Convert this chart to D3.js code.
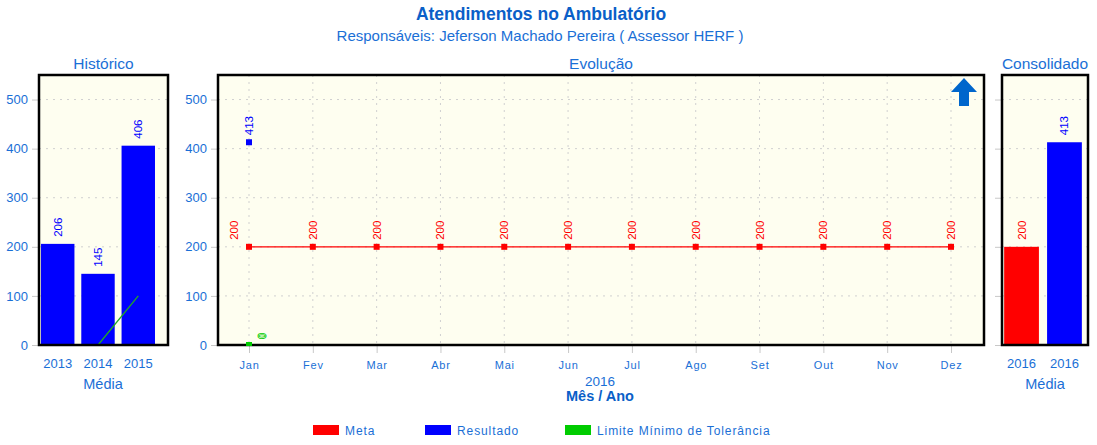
<!DOCTYPE html>
<html><head><meta charset="utf-8">
<script src="https://cdn.jsdelivr.net/npm/d3@7"></script>
<style>
body{margin:0;background:#fff;}
text{font-family:"Liberation Sans",Arial,sans-serif;}
</style></head>
<body><svg id="c" width="1097" height="445"></svg>
<script>
// ---- data ----
const title = "Atendimentos no Ambulatório";
const subtitle = "Responsáveis: Jeferson Machado Pereira ( Assessor HERF )";
const histYears = ["2013","2014","2015"];
const histResultado = [206,145,406];
const histLimite = [null,0,100];
const months = ["Jan","Fev","Mar","Abr","Mai","Jun","Jul","Ago","Set","Out","Nov","Dez"];
const meta = [200,200,200,200,200,200,200,200,200,200,200,200];
const resultado = [413,null,null,null,null,null,null,null,null,null,null,null];
const limite = [0,null,null,null,null,null,null,null,null,null,null,null];
const consLabels = ["2016","2016"];
const consSeries = ["Meta","Resultado"];
const consValues = [200,413];
const yTicks = [0,100,200,300,400,500];
const legendItems = ["Meta","Resultado","Limite Mínimo de Tolerância"];

const colors = {Meta:"#ff0000",Resultado:"#0000ff",Limite:"#00cc00"};
const legendColors = ["#ff0000","#0000ff","#00cc00"];
const blueText = "#1a6fd6";
const titleBlue = "#0a5fc8";
const bg = "#fefef0";

const svg = d3.select("#c");
const y = d3.scaleLinear().domain([0,550]).range([345,75]);
const yTop = 75, yBot = 345;

svg.append("text").attr("x",541).attr("y",20).attr("text-anchor","middle")
  .attr("font-size",17.5).attr("font-weight","bold").attr("fill",titleBlue).text(title);
svg.append("text").attr("x",540).attr("y",41).attr("text-anchor","middle")
  .attr("font-size",15).attr("fill",blueText).text(subtitle);

function panel(x0,x1,name,showLabels){
  const g = svg.append("g");
  g.append("rect").attr("x",x0).attr("y",yTop).attr("width",x1-x0).attr("height",yBot-yTop).attr("fill",bg);
  g.selectAll(".hg").data(yTicks.filter(d=>d>0)).enter().append("line")
    .attr("x1",x0).attr("x2",x1).attr("y1",d=>y(d)).attr("y2",d=>y(d))
    .attr("stroke","#d0d0d0").attr("stroke-dasharray","2,5");
  const ax = d3.axisLeft(y).tickValues(yTicks).tickSize(6).tickPadding(4);
  if(!showLabels) ax.tickFormat("");
  const a = g.append("g").attr("transform",`translate(${x0-1},0)`).call(ax);
  a.select(".domain").remove();
  a.selectAll("line").attr("stroke","#c8c8c8");
  a.selectAll("text").attr("fill",blueText).attr("font-size",13).attr("font-family","Liberation Sans,Arial,sans-serif");
  svg.append("text").attr("x",(x0+x1)/2).attr("y",69).attr("text-anchor","middle")
    .attr("font-size",15.5).attr("fill",blueText).text(name);
  return g;
}
function frame(x0,x1){
  svg.append("rect").attr("x",x0).attr("y",yTop).attr("width",x1-x0).attr("height",yBot-yTop)
    .attr("fill","none").attr("stroke","#000").attr("stroke-width",2.5);
}
function vlabel(g,x,yv,txt,color,dx){
  g.append("text").attr("transform",`translate(${x+(dx||0)},${yv-7}) rotate(-90)`)
    .attr("dy","0.35em").attr("font-size",11.5)
    .attr("fill",color).text(txt);
}

// ---- Histórico ----
const gH = panel(39,168,"Histórico",true);
const xH = d3.scaleBand().domain(histYears).range([39,157]).paddingInner(0.17).paddingOuter(0.05);
gH.selectAll(".hb").data(histYears).enter().append("rect")
  .attr("x",d=>xH(d)).attr("width",xH.bandwidth())
  .attr("y",(d,i)=>y(histResultado[i])).attr("height",(d,i)=>yBot-y(histResultado[i]))
  .attr("fill",colors.Resultado);
histYears.forEach((d,i)=>vlabel(gH,xH(d)+xH.bandwidth()/2,y(histResultado[i]),histResultado[i],"#0000ff"));
const limPts = histYears.map((d,i)=>[d,histLimite[i]]).filter(p=>p[1]!==null);
gH.append("path").datum(limPts)
  .attr("d",d3.line().x(p=>xH(p[0])+xH.bandwidth()/2).y(p=>y(p[1])))
  .attr("fill","none").attr("stroke","#22aa22").attr("stroke-width",1.3);
frame(39,168);
histYears.forEach(d=>svg.append("text").attr("x",xH(d)+xH.bandwidth()/2).attr("y",368)
  .attr("text-anchor","middle").attr("font-size",13).attr("fill",blueText).text(d));
svg.append("text").attr("x",103).attr("y",389).attr("text-anchor","middle")
  .attr("font-size",14.5).attr("fill",blueText).text("Média");

// ---- Evolução ----
const gE = panel(218,984,"Evolução",true);
const xE = d3.scalePoint().domain(months).range([249,951]);
gE.selectAll(".vg").data(months).enter().append("line")
  .attr("x1",d=>xE(d)).attr("x2",d=>xE(d)).attr("y1",yTop).attr("y2",yBot)
  .attr("stroke","#d0d0d0").attr("stroke-dasharray","2,5");
const xa = svg.append("g").attr("transform",`translate(0,${yBot+1})`)
  .call(d3.axisBottom(xE).tickSize(7).tickPadding(6));
xa.select(".domain").remove();
xa.selectAll("line").attr("stroke","#c8c8c8");
xa.selectAll("text").attr("fill",blueText).attr("font-size",11).attr("letter-spacing","0.8px")
  .attr("font-family","DejaVu Sans,Verdana,sans-serif").attr("dy","0.9em");
const metaPts = months.map((m,i)=>[m,meta[i]]).filter(p=>p[1]!==null);
gE.append("path").datum(metaPts).attr("d",d3.line().x(p=>xE(p[0])).y(p=>y(p[1])))
  .attr("fill","none").attr("stroke","#ff0000").attr("stroke-width",1.3);
function markers(pts,color){
  gE.selectAll(null).data(pts).enter().append("rect")
    .attr("x",p=>xE(p[0])-3).attr("y",p=>y(p[1])-3).attr("width",6).attr("height",6).attr("fill",color);
}
markers(metaPts,"#ff0000");
const resPts = months.map((m,i)=>[m,resultado[i]]).filter(p=>p[1]!==null);
const limEPts = months.map((m,i)=>[m,limite[i]]).filter(p=>p[1]!==null);
markers(resPts,"#0000ff");
metaPts.forEach(p=>{
  const crowded = resultado[months.indexOf(p[0])]!==null;
  vlabel(gE,xE(p[0]),y(p[1]),p[1],"#ff0000",crowded?-15:0);
});
resPts.forEach(p=>vlabel(gE,xE(p[0]),y(p[1]),p[1],"#0000ff"));
frame(218,984);
limEPts.forEach(p=>{
  svg.append("rect").attr("x",xE(p[0])-3).attr("y",y(p[1])-3).attr("width",6).attr("height",4).attr("fill","#00cc00");
  svg.append("text").attr("transform",`translate(${xE(p[0])+13},${y(p[1])-6}) rotate(-90)`)
    .attr("dy","0.35em").attr("font-size",11).attr("font-weight","bold")
    .attr("fill","none").attr("stroke","#00cc00").attr("stroke-width",0.8).text(p[1]);
});
svg.append("path").attr("fill","#0066cc")
  .attr("d","M964,78 L977,92 L969,92 L969,106 L959,106 L959,92 L951,92 Z");
svg.append("text").attr("x",600).attr("y",386).attr("text-anchor","middle")
  .attr("font-size",13.5).attr("fill",blueText).text("2016");
svg.append("text").attr("x",600).attr("y",401).attr("text-anchor","middle")
  .attr("font-size",14.5).attr("font-weight","bold").attr("fill",titleBlue).text("Mês / Ano");

// ---- Consolidado ----
const gC = panel(1002,1088,"Consolidado",false);
const xC = d3.scaleBand().domain(d3.range(consValues.length)).range([1002,1084]).paddingInner(0.19).paddingOuter(0.05);
gC.selectAll(".cb").data(consValues).enter().append("rect")
  .attr("x",(d,i)=>xC(i)).attr("width",xC.bandwidth())
  .attr("y",d=>y(d)).attr("height",d=>yBot-y(d))
  .attr("fill",(d,i)=>colors[consSeries[i]]);
consValues.forEach((v,i)=>vlabel(gC,xC(i)+xC.bandwidth()/2,y(v),v,colors[consSeries[i]]));
frame(1002,1088);
consLabels.forEach((d,i)=>svg.append("text").attr("x",xC(i)+xC.bandwidth()/2).attr("y",368)
  .attr("text-anchor","middle").attr("font-size",13).attr("fill",blueText).text(d));
svg.append("text").attr("x",1045).attr("y",389).attr("text-anchor","middle")
  .attr("font-size",14.5).attr("fill",blueText).text("Média");

// ---- legend ----
const legX = [313,425,565];
legendItems.forEach((t,i)=>{
  svg.append("rect").attr("x",legX[i]).attr("y",425).attr("width",26).attr("height",10).attr("fill",legendColors[i]);
  svg.append("text").attr("x",legX[i]+32).attr("y",435).attr("font-size",12)
    .attr("font-family","DejaVu Sans,Verdana,sans-serif").attr("letter-spacing","0.9px")
    .attr("fill",blueText).text(t);
});
</script></body></html>
